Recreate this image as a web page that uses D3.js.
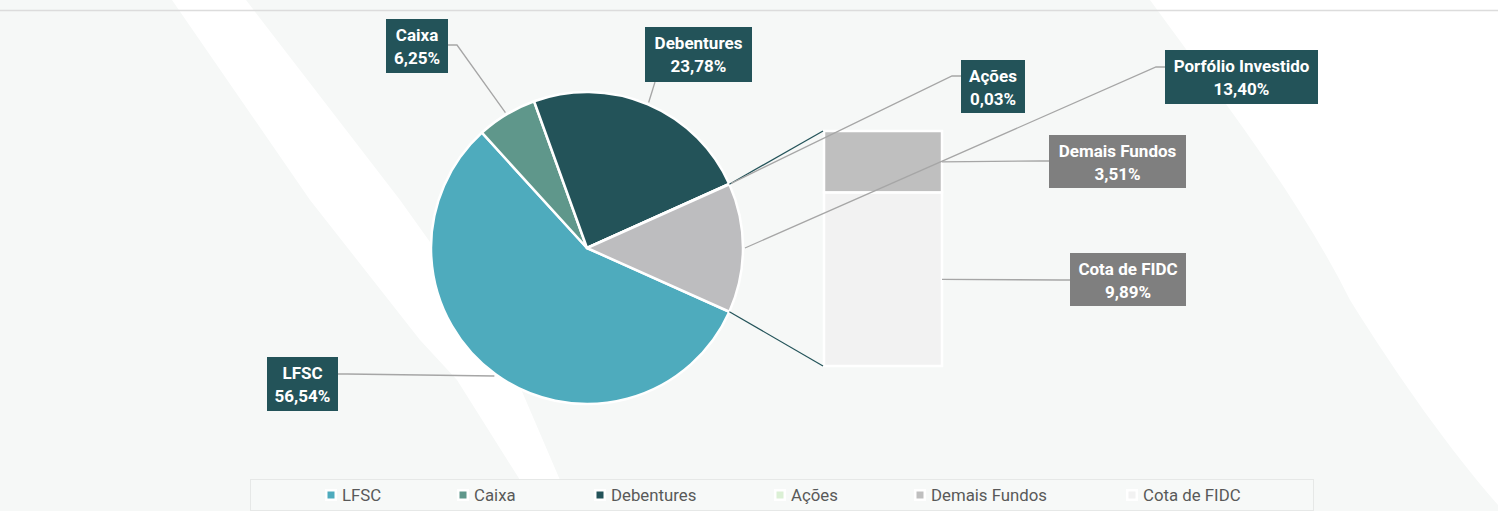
<!DOCTYPE html>
<html>
<head>
<meta charset="utf-8">
<script src="https://cdn.jsdelivr.net/npm/d3@7"></script>
<style>
  html, body { margin: 0; padding: 0; background: #f6f8f7; }
  svg { display: block; }
</style>
</head>
<body>
<div id="chart"></div>
<script>
// data
const pieNames = ['LFSC', 'Caixa', 'Debentures', 'Ações', 'Porfólio Investido'];
const pieValues = [56.54, 6.25, 23.78, 0.03, 13.40];
const barNames = ['Demais Fundos', 'Cota de FIDC'];
const barValues = [3.51, 9.89];
const legendNames = ['LFSC', 'Caixa', 'Debentures', 'Ações', 'Demais Fundos', 'Cota de FIDC'];

const w = 1498;
const h = 511;

const colors = {
  'LFSC': '#4eabbd',
  'Caixa': '#5f978b',
  'Debentures': '#235359',
  'Ações': '#dbf0d5',
  'Porfólio Investido': '#bdbdbf',
  'Demais Fundos': '#bfbfbf',
  'Cota de FIDC': '#f2f2f2'
};

// label boxes (layout only)
const boxes = {
  'Caixa':              { x: 386,  y: 19,  w: 62,  h: 54, fill: '#235359', side: 'right', ay: 26 },
  'Debentures':         { x: 645,  y: 27,  w: 107, h: 55, fill: '#235359', side: 'bottom', ax: 10 },
  'Ações':              { x: 961,  y: 60,  w: 64,  h: 53, fill: '#235359', side: 'left', ay: 16 },
  'Porfólio Investido': { x: 1165, y: 50,  w: 153, h: 54, fill: '#235359', side: 'left', ay: 17 },
  'Demais Fundos':      { x: 1049, y: 135, w: 137, h: 53, fill: '#7f7f7f', side: 'left', ay: 26 },
  'Cota de FIDC':       { x: 1070, y: 253, w: 116, h: 53, fill: '#7f7f7f', side: 'left', ay: 27 },
  'LFSC':               { x: 267,  y: 357, w: 71,  h: 54, fill: '#235359', side: 'right', ay: 17 }
};

const locale = d3.formatLocale({ decimal: ',', thousands: '.', grouping: [3], currency: ['R$', ''] });
const pct = (v) => locale.format('.2f')(v) + '%';

const svg = d3.select('#chart')
              .append('svg')
              .attr('width', w)
              .attr('height', h);

// background
svg.append('rect')
   .attr('width', w)
   .attr('height', h)
   .attr('fill', '#f6f8f7');

svg.append('path')
   .attr('d', 'M172,0 L246,0 L400,200 L500,340 L560,480 L575,511 L535,511 L520,480 L457,380 L420,340 L310,200 Z')
   .attr('fill', '#ffffff');

svg.append('path')
   .attr('d', 'M1150,0 C1230,110 1300,200 1350,300 C1400,380 1450,450 1498,505 L1498,0 Z')
   .attr('fill', '#ffffff');

svg.append('line')
   .attr('x1', 0).attr('x2', w)
   .attr('y1', 10.5).attr('y2', 10.5)
   .attr('stroke', '#dcdcdc')
   .attr('stroke-width', 1.5);

// pie
const cx = 587;
const cy = 248;
const r = 156;
const total = d3.sum(pieValues);
const otherShare = pieValues[pieValues.length - 1] / total;
const start = Math.PI / 2 + otherShare * Math.PI;

const pie = d3.pie()
              .sort(null)
              .value((d) => d.value)
              .startAngle(start)
              .endAngle(start + 2 * Math.PI);

const pieData = pie(pieNames.map((n, i) => ({ name: n, value: pieValues[i] })));

const arc = d3.arc().innerRadius(0).outerRadius(r);

const pieG = svg.append('g')
                .attr('transform', 'translate(' + cx + ',' + cy + ')');

pieG.selectAll('path')
    .data(pieData)
    .enter()
    .append('path')
    .attr('d', arc)
    .attr('fill', (d) => colors[d.data.name])
    .attr('stroke', '#ffffff')
    .attr('stroke-width', 2.5)
    .attr('stroke-linejoin', 'round');

const onCircle = (a, rad) => [cx + rad * Math.sin(a), cy - rad * Math.cos(a)];

// bar of pie
const barX = 824;
const barW = 118;
const yScale = d3.scaleLinear()
                 .domain([0, d3.sum(barValues)])
                 .range([131, 366]);

let acc = 0;
const barData = barNames.map((n, i) => {
  const d = { name: n, value: barValues[i], y0: acc, y1: acc + barValues[i] };
  acc += barValues[i];
  return d;
});

svg.selectAll('rect.seg')
   .data(barData)
   .enter()
   .append('rect')
   .attr('class', 'seg')
   .attr('x', barX)
   .attr('y', (d) => yScale(d.y0))
   .attr('width', barW)
   .attr('height', (d) => yScale(d.y1) - yScale(d.y0))
   .attr('fill', (d) => colors[d.name])
   .attr('stroke', '#ffffff')
   .attr('stroke-width', 2.5);

// connector lines pie -> bar
const other = pieData[pieData.length - 1];
const pTop = onCircle(other.startAngle, r);
const pBot = onCircle(other.endAngle, r);
svg.append('line')
   .attr('x1', pTop[0]).attr('y1', pTop[1])
   .attr('x2', barX - 1).attr('y2', yScale(0))
   .attr('stroke', '#235359').attr('stroke-width', 1.2);
svg.append('line')
   .attr('x1', pBot[0]).attr('y1', pBot[1])
   .attr('x2', barX - 1).attr('y2', yScale(d3.sum(barValues)))
   .attr('stroke', '#235359').attr('stroke-width', 1.2);

// label targets
const targets = {};
pieData.forEach((d) => {
  targets[d.data.name] = onCircle((d.startAngle + d.endAngle) / 2, r + 2);
});
barData.forEach((d) => {
  targets[d.name] = [barX + barW, yScale((d.y0 + d.y1) / 2)];
});
const values = {};
pieNames.forEach((n, i) => values[n] = pieValues[i]);
barNames.forEach((n, i) => values[n] = barValues[i]);

// leader lines
Object.keys(boxes).forEach((name) => {
  const b = boxes[name];
  const t = targets[name];
  let pts;
  if (b.side === 'left') {
    pts = [[b.x, b.y + b.ay], [b.x - 9, b.y + b.ay], t];
  } else if (b.side === 'right') {
    pts = [[b.x + b.w, b.y + b.ay], [b.x + b.w + 9, b.y + b.ay], t];
  } else {
    pts = [[b.x + b.ax, b.y + b.h], t];
  }
  svg.append('path')
     .attr('d', d3.line()(pts))
     .attr('fill', 'none')
     .attr('stroke', '#a6a6a6')
     .attr('stroke-width', 1.3);
});

// label boxes
Object.keys(boxes).forEach((name) => {
  const b = boxes[name];
  const g = svg.append('g');
  g.append('rect')
   .attr('x', b.x).attr('y', b.y)
   .attr('width', b.w).attr('height', b.h)
   .attr('fill', b.fill);
  g.append('text')
   .attr('x', b.x + b.w / 2)
   .attr('y', b.y + 22)
   .attr('text-anchor', 'middle')
   .style('font-family', 'Roboto, sans-serif')
   .style('font-weight', 700)
   .style('font-size', '17px')
   .attr('fill', '#ffffff')
   .text(name);
  g.append('text')
   .attr('x', b.x + b.w / 2)
   .attr('y', b.y + 45)
   .attr('text-anchor', 'middle')
   .style('font-family', 'Roboto, sans-serif')
   .style('font-weight', 700)
   .style('font-size', '17px')
   .attr('fill', '#ffffff')
   .text(pct(values[name]));
});

// legend
const legendX = [342, 474, 611, 791, 931, 1143];
svg.append('rect')
   .attr('x', 250.5).attr('y', 479.5)
   .attr('width', 1063).attr('height', 31)
   .attr('fill', '#f7f9f8')
   .attr('stroke', '#e6e8e7');

const leg = svg.selectAll('g.leg')
               .data(legendNames)
               .enter()
               .append('g')
               .attr('class', 'leg')
               .attr('transform', (d, i) => 'translate(' + legendX[i] + ',495)');

leg.append('rect')
   .attr('x', -17).attr('y', -6)
   .attr('width', 12).attr('height', 12)
   .attr('fill', '#ffffff');
leg.append('rect')
   .attr('x', -14.5).attr('y', -3.5)
   .attr('width', 7).attr('height', 7)
   .attr('fill', (d) => colors[d]);
leg.append('text')
   .attr('x', 0)
   .attr('y', 6)
   .style('font-family', 'Roboto, sans-serif')
   .style('font-size', '16.8px')
   .attr('fill', '#595959')
   .text((d) => d);
</script>
</body>
</html>
